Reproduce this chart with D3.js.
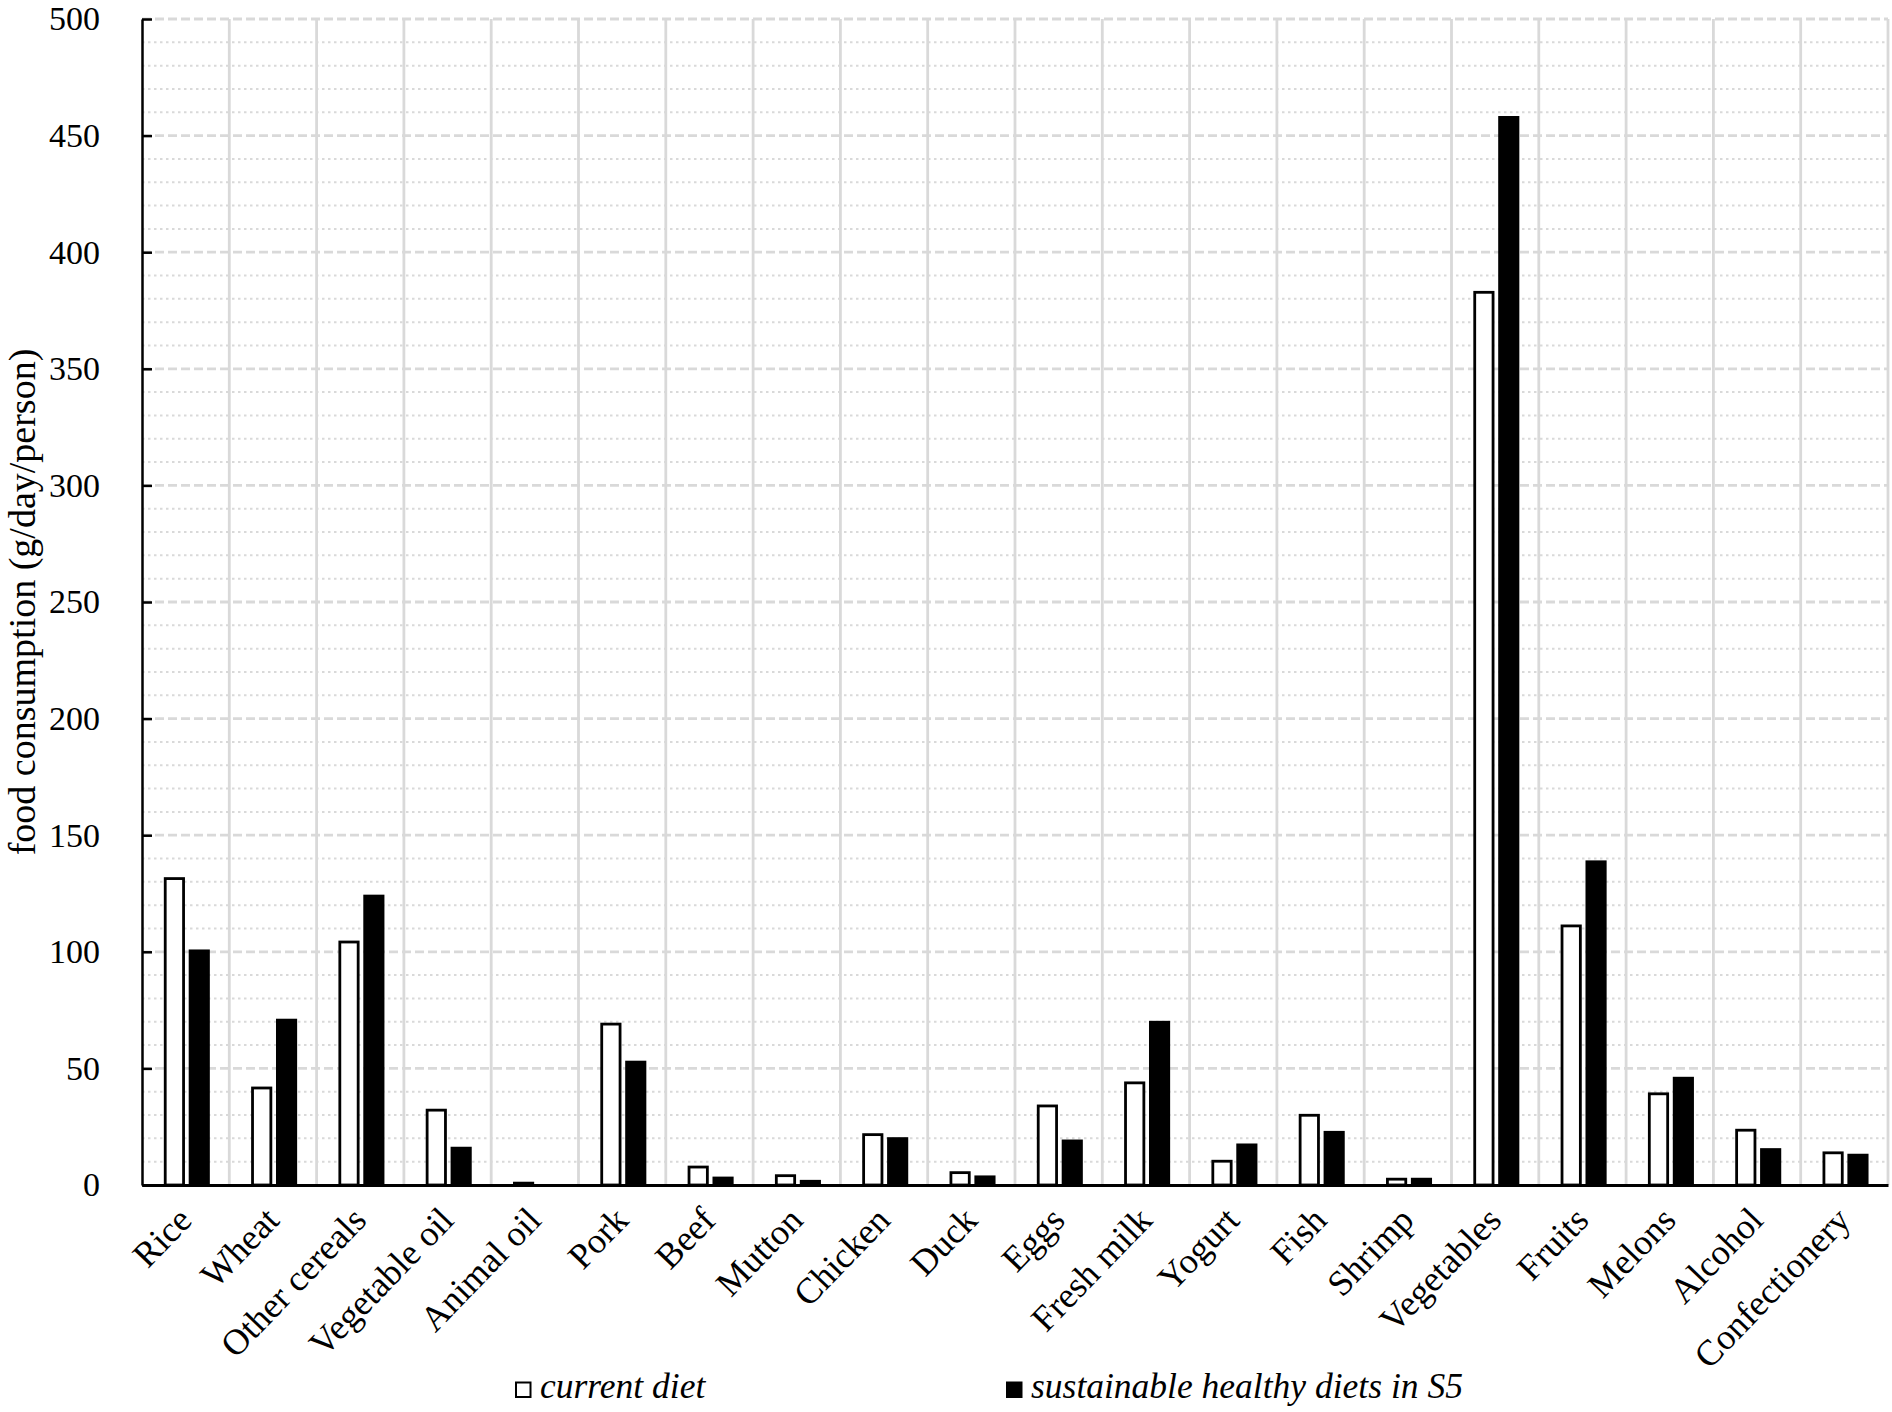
<!DOCTYPE html>
<html>
<head>
<meta charset="utf-8">
<script src="https://cdn.jsdelivr.net/npm/d3@7"></script>
<style>
  body { margin: 0; background: #fff; }
  svg { display: block; font-family: "Times New Roman", "Liberation Serif", serif; }
</style>
</head>
<body>
<div id="chart"></div>
<script>
const categories = ['Rice', 'Wheat', 'Other cereals', 'Vegetable oil', 'Animal oil', 'Pork', 'Beef', 'Mutton',
  'Chicken', 'Duck', 'Eggs', 'Fresh milk', 'Yogurt', 'Fish', 'Shrimp', 'Vegetables', 'Fruits', 'Melons',
  'Alcohol', 'Confectionery'];
const currentDiet = [132, 42.2, 104.8, 32.7, 1.4, 69.6, 8.3, 4.6, 22.2, 5.9, 34.5, 44.4, 10.8, 30.5, 3.1,
  383.4, 111.7, 39.7, 24.1, 14.4];
const sustainableDiet = [101, 71.3, 124.5, 16.4, 0.4, 53.3, 3.6, 2.2, 20.5, 4.1, 19.5, 70.4, 17.8, 23.2, 3.1,
  458.4, 139.2, 46.4, 15.8, 13.4];
const seriesNames = ['current diet', 'sustainable healthy diets in S5'];
const yTicks = [0, 50, 100, 150, 200, 250, 300, 350, 400, 450, 500];
const yTitle = 'food consumption (g/day/person)';

const W = 1892, H = 1412;
const margin = { top: 19, right: 4, bottom: 227, left: 142 };
const width = W - margin.left - margin.right;
const height = H - margin.top - margin.bottom;
const gridColor = '#d9d9d9';
const serif = '"Times New Roman", "Liberation Serif", serif';

const svg = d3.select('#chart').append('svg')
  .attr('width', W)
  .attr('height', H);

const g = svg.append('g').attr('transform', `translate(${margin.left}, ${margin.top})`);

const x0 = d3.scaleBand().domain(categories).range([0, width]).padding(0);
const bw = x0.bandwidth();
const x1 = d3.scaleBand().domain(seriesNames).range([bw * 0.25, bw * 0.777]).paddingInner(0.15);
const y = d3.scaleLinear().domain([0, 500]).range([height, 0]);

// minor dotted gridlines every 10
const minor = d3.range(10, 500, 10).filter((v) => v % 50 !== 0);
g.append('g').selectAll('line').data(minor).join('line')
  .attr('x1', 0).attr('x2', width)
  .attr('y1', (d) => y(d)).attr('y2', (d) => y(d))
  .attr('stroke', gridColor).attr('stroke-width', 2).attr('stroke-dasharray', '2.5,3.5');

// major dashed gridlines
g.append('g').selectAll('line').data(yTicks.filter((d) => d > 0)).join('line')
  .attr('x1', 0).attr('x2', width)
  .attr('y1', (d) => y(d)).attr('y2', (d) => y(d))
  .attr('stroke', gridColor).attr('stroke-width', 2.8).attr('stroke-dasharray', '9,4');

// vertical category separators
g.append('g').selectAll('line').data(categories).join('line')
  .attr('x1', (d) => x0(d) + bw).attr('x2', (d) => x0(d) + bw)
  .attr('y1', 0).attr('y2', height)
  .attr('stroke', gridColor).attr('stroke-width', 2.8);

// bars
const rows = categories.map((c, i) => ({ cat: c, values: [currentDiet[i], sustainableDiet[i]] }));
const sw = 2.8;
const groups = g.append('g').selectAll('g').data(rows).join('g')
  .attr('transform', (d) => `translate(${x0(d.cat)}, 0)`);

groups.append('rect')
  .attr('x', x1(seriesNames[0]) + sw / 2)
  .attr('width', x1.bandwidth() - sw)
  .attr('y', (d) => y(d.values[0]) + sw / 2)
  .attr('height', (d) => Math.max(0, height - y(d.values[0]) - sw / 2))
  .attr('fill', '#fff').attr('stroke', '#000').attr('stroke-width', sw);

groups.append('rect')
  .attr('x', x1(seriesNames[1]))
  .attr('width', x1.bandwidth())
  .attr('y', (d) => y(d.values[1]))
  .attr('height', (d) => height - y(d.values[1]))
  .attr('fill', '#000');

// y axis
const gy = g.append('g')
  .call(d3.axisLeft(y).tickValues(yTicks).tickSizeInner(-10).tickSizeOuter(0).tickPadding(42))
  .attr('font-family', serif).attr('font-size', 34);
gy.select('.domain').attr('stroke', '#000').attr('stroke-width', 2.5);
gy.selectAll('.tick line').attr('stroke', '#000').attr('stroke-width', 2.5);
gy.selectAll('.tick text').attr('fill', '#000');

// x axis
const gx = g.append('g').attr('transform', `translate(0, ${height})`)
  .call(d3.axisBottom(x0).tickSize(0).tickSizeOuter(0))
  .attr('font-family', serif).attr('font-size', 36);
gx.select('.domain').attr('stroke', '#000').attr('stroke-width', 3);
gx.selectAll('.tick text')
  .attr('fill', '#000')
  .attr('text-anchor', 'end')
  .attr('x', 0).attr('y', 0).attr('dy', 0)
  .attr('transform', 'translate(8, 37) rotate(-46)');

// y title
svg.append('text')
  .attr('transform', `translate(35, ${margin.top + height / 2}) rotate(-90)`)
  .attr('text-anchor', 'middle')
  .attr('font-size', 38)
  .text(yTitle);

// legend
const legendX = [515, 1006];
const legend = svg.append('g').selectAll('g').data(seriesNames).join('g')
  .attr('transform', (d, i) => `translate(${legendX[i]}, 1398)`);
legend.append('rect')
  .attr('x', (d, i) => (i === 0 ? 1 : 0)).attr('y', (d, i) => (i === 0 ? -15.5 : -16.5))
  .attr('width', (d, i) => (i === 0 ? 14.5 : 16.5)).attr('height', (d, i) => (i === 0 ? 14.5 : 16.5))
  .attr('fill', (d, i) => (i === 0 ? '#fff' : '#000'))
  .attr('stroke', '#000').attr('stroke-width', (d, i) => (i === 0 ? 2 : 0));
legend.append('text')
  .attr('x', 25)
  .attr('font-size', 35.5)
  .attr('font-style', 'italic')
  .text((d) => d);
</script>
</body>
</html>
